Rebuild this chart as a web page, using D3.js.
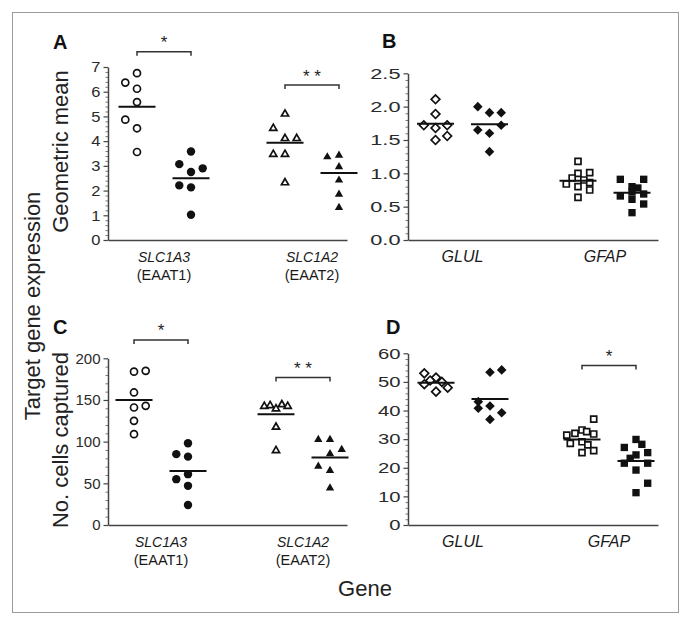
<!DOCTYPE html>
<html><head><meta charset="utf-8">
<script src="https://cdn.jsdelivr.net/npm/d3@7"></script>
<style>
body{margin:0;background:#fff}
svg{display:block}
text{font-family:"Liberation Sans",Arial,Helvetica,sans-serif}
</style>
</head><body>
<svg id="chart" width="690" height="626"></svg>
<script>
// ---------------- DATA ----------------
const genesAC = ["SLC1A3", "SLC1A2"];
const proteinsAC = ["(EAAT1)", "(EAAT2)"];
const genesBD = ["GLUL", "GFAP"];
const groups = ["open", "filled"];

// Panel A: geometric mean
const A_ticks = [0, 1, 2, 3, 4, 5, 6, 7];
const A_SLC1A3_open = [6.75, 6.37, 6.12, 5.58, 4.87, 4.52, 3.56];
const A_SLC1A3_open_slot = [0, -1, 0, 0, -1, 0, 0];
const A_SLC1A3_filled = [3.58, 3.07, 2.90, 2.75, 2.21, 2.13, 1.02];
const A_SLC1A3_filled_slot = [0, -1, 1, 0, -1, 0, 0];
const A_SLC1A2_open = [5.12, 4.54, 4.13, 4.13, 3.49, 3.49, 2.34];
const A_SLC1A2_open_slot = [0, -1, 0, 1, -1, 0, 0];
const A_SLC1A2_filled = [3.38, 3.45, 2.98, 2.44, 1.87, 1.33];
const A_SLC1A2_filled_slot = [-1, 0, 0, 0, 0, 0];
const A_means = [5.39, 2.50, 3.93, 2.71];
const A_sig = [{gene: 0, y: 7.62, label: "*"}, {gene: 1, y: 6.27, label: "* *"}];

// Panel B: geometric mean
const B_ticks = [0, 0.5, 1.0, 1.5, 2.0, 2.5];
const B_GLUL_open = [2.11, 1.89, 1.72, 1.68, 1.72, 1.56, 1.50];
const B_GLUL_open_slot = [0, 0, -1, 0, 1, 1, 0];
const B_GLUL_filled = [2.00, 1.91, 1.91, 1.72, 1.65, 1.60, 1.325];
const B_GLUL_filled_slot = [-1, 0, 1, 1, -1, 0, 0];
const B_GFAP_open = [1.18, 1.00, 1.01, 0.93, 0.90, 0.84, 0.86, 0.80, 0.75, 0.64];
const B_GFAP_open_slot = [0, 0, 1, -0.5, 0.5, -1, 1, 0, 1, 0];
const B_GFAP_filled = [0.91, 0.91, 0.80, 0.78, 0.72, 0.66, 0.61, 0.69, 0.54, 0.41];
const B_GFAP_filled_slot = [-1, 1, 0, 0.5, 0, -1, 0, 1, 1, 0];
const B_means = [1.745, 1.735, 0.89, 0.71];
const B_sig = [];

// Panel C: number of cells captured
const C_ticks = [0, 50, 100, 150, 200];
const C_SLC1A3_open = [184, 185, 159, 141, 143, 125, 109];
const C_SLC1A3_open_slot = [0, 1, 0, 0, 1, 0, 0];
const C_SLC1A3_filled = [98, 85, 82, 55, 61, 47, 24];
const C_SLC1A3_filled_slot = [0, -1, 0, -1, 0, 0, 0];
const C_SLC1A2_open = [143, 144, 140, 145, 143, 118, 90];
const C_SLC1A2_open_slot = [-1, -0.5, 0, 0.5, 1, 0, 0];
const C_SLC1A2_filled = [103, 103, 91, 86, 71, 66, 45];
const C_SLC1A2_filled_slot = [-1, 0, 1, 0, -1, 0, 0];
const C_means = [150, 64.8, 133, 81];
const C_sig = [{gene: 0, y: 222, label: "*"}, {gene: 1, y: 177, label: "* *"}];

// Panel D: number of cells captured
const D_ticks = [0, 10, 20, 30, 40, 50, 60];
const D_GLUL_open = [53.0, 51.5, 50.5, 50.0, 49.2, 48.0, 46.6];
const D_GLUL_open_slot = [-1, 0, -0.5, 0.5, -1, 1, 0];
const D_GLUL_filled = [53.4, 54.2, 43.1, 40.8, 41.6, 39.2, 36.9];
const D_GLUL_filled_slot = [0, 1, -1, -1, 0, 1, 0];
const D_GFAP_open = [37.0, 32.0, 33.2, 32.6, 31.8, 31.4, 28.5, 29.1, 28.0, 26.0, 25.3];
const D_GFAP_open_slot = [1, -0.6, 0, 0.4, 1, -1.3, -1, 0, 0.5, 1, 0];
const D_GFAP_filled = [29.9, 27.1, 28.2, 25.3, 24.5, 23.3, 21.6, 21.6, 19.2, 14.6, 11.3];
const D_GFAP_filled_slot = [0, -1, 0.5, 1, 0, -0.5, -1, 1, 0, 1, 0];
const D_means = [49.7, 44.0, 29.9, 22.4];
const D_sig = [{gene: 1, y: 55.7, label: "*"}];

const yTitleTop = "Geometric mean";
const yTitleBottom = "No. cells captured";
const yTitleAll = "Target gene expression";
const xTitle = "Gene";

// ---------------- LAYOUT ----------------
const svg = d3.select("#chart");
const INK = "#111";
const AXIS = "#444";

svg.append("rect").attr("x", 12.5).attr("y", 12.5).attr("width", 666).attr("height", 600)
  .attr("fill", "none").attr("stroke", "#9a9a9a").attr("stroke-width", 1);

const panels = [
  {id: "A", letter: [53, 49], left: 108, right: 347, top: 67, bottom: 240, domain: [0, 7], ticks: A_ticks,
   minor: 0.2, fmt: d3.format("d"), fs: 15, stretch: 1.1, genes: genesAC, sub: proteinsAC, gr: [56, 204],
   shapes: ["circle", "triangle"], series: [
     [A_SLC1A3_open, A_SLC1A3_open_slot], [A_SLC1A3_filled, A_SLC1A3_filled_slot],
     [A_SLC1A2_open, A_SLC1A2_open_slot], [A_SLC1A2_filled, A_SLC1A2_filled_slot]],
   means: A_means, sig: A_sig, labelFs: 14},
  {id: "B", letter: [382, 48], left: 408, right: 658, top: 73.3, bottom: 240, domain: [0, 2.5], ticks: B_ticks,
   minor: 0.1, fmt: d3.format(".1f"), fs: 15, stretch: 1.45, genes: genesBD, sub: null, gr: [54.5, 197],
   shapes: ["diamond", "square"], series: [
     [B_GLUL_open, B_GLUL_open_slot], [B_GLUL_filled, B_GLUL_filled_slot],
     [B_GFAP_open, B_GFAP_open_slot], [B_GFAP_filled, B_GFAP_filled_slot]],
   means: B_means, sig: B_sig, labelFs: 16},
  {id: "C", letter: [53, 334], left: 108, right: 347, top: 358.3, bottom: 525, domain: [0, 200], ticks: C_ticks,
   minor: 10, fmt: d3.format("d"), fs: 15, stretch: 1.0, genes: genesAC, sub: proteinsAC, gr: [53, 195],
   shapes: ["circle", "triangle"], series: [
     [C_SLC1A3_open, C_SLC1A3_open_slot], [C_SLC1A3_filled, C_SLC1A3_filled_slot],
     [C_SLC1A2_open, C_SLC1A2_open_slot], [C_SLC1A2_filled, C_SLC1A2_filled_slot]],
   means: C_means, sig: C_sig, labelFs: 14},
  {id: "D", letter: [386, 334], left: 408, right: 658, top: 353.3, bottom: 525, domain: [0, 60], ticks: D_ticks,
   minor: 2, fmt: d3.format("d"), fs: 15, stretch: 1.35, genes: genesBD, sub: null, gr: [55, 201],
   shapes: ["diamond", "square"], series: [
     [D_GLUL_open, D_GLUL_open_slot], [D_GLUL_filled, D_GLUL_filled_slot],
     [D_GFAP_open, D_GFAP_open_slot], [D_GFAP_filled, D_GFAP_filled_slot]],
   means: D_means, sig: D_sig, labelFs: 16}
];

const SLOT = 11.7;     // jitter column width (px)
const HALF_PAIR = 27;  // offset of open / filled group from gene centre
const MEAN_W = 37;

function marker(g, shape, filled, x, y) {
  const sw = filled ? 0 : 1.7;
  const fill = filled ? INK : "#fff";
  if (shape === "circle") {
    g.append("circle").attr("cx", x).attr("cy", y).attr("r", filled ? 4.2 : 3.5)
      .attr("fill", fill).attr("stroke", INK).attr("stroke-width", sw);
  } else if (shape === "triangle") {
    g.append("path").attr("d", d3.symbol(d3.symbolTriangle, filled ? 30 : 22)())
      .attr("transform", `translate(${x},${y + 0.5})`)
      .attr("fill", fill).attr("stroke", INK).attr("stroke-width", sw).attr("stroke-linejoin", "miter");
  } else if (shape === "diamond") {
    g.append("path").attr("d", d3.symbol(d3.symbolSquare, filled ? 46 : 38)())
      .attr("transform", `translate(${x},${y}) rotate(45)`)
      .attr("fill", fill).attr("stroke", INK).attr("stroke-width", sw);
  } else {
    g.append("path").attr("d", d3.symbol(d3.symbolSquare, filled ? 54 : 36)())
      .attr("transform", `translate(${x},${y})`)
      .attr("fill", fill).attr("stroke", INK).attr("stroke-width", sw);
  }
}

panels.forEach(p => {
  const g = svg.append("g");
  const y = d3.scaleLinear().domain(p.domain).range([p.bottom, p.top]);
  const xGene = d3.scalePoint().domain(p.genes).range([p.left + p.gr[0], p.left + p.gr[1]]);
  const xGroup = d3.scalePoint().domain(groups).range([-HALF_PAIR, HALF_PAIR]);
  const xAxisScale = d3.scaleBand().domain(p.genes).range([p.left, p.right]);

  // panel letter
  g.append("text").attr("x", p.letter[0]).attr("y", p.letter[1]).text(p.id)
    .attr("font-size", 20).attr("font-weight", "bold").attr("fill", "#111");

  // minor ticks
  const minors = d3.range(p.domain[0], p.domain[1] + p.minor / 2, p.minor)
    .filter(v => !p.ticks.some(t => Math.abs(t - v) < p.minor / 4));
  const gMinor = g.append("g").attr("transform", `translate(${p.left},0)`)
    .call(d3.axisLeft(y).tickValues(minors).tickSize(2.5).tickFormat(""));
  gMinor.select(".domain").remove();
  gMinor.selectAll("line").attr("stroke", "#777").attr("stroke-width", 1);

  // y axis
  const gy = g.append("g").attr("transform", `translate(${p.left},0)`)
    .call(d3.axisLeft(y).tickValues(p.ticks).tickSize(4.5).tickSizeOuter(0).tickPadding(3).tickFormat(p.fmt));
  gy.select(".domain").attr("stroke", AXIS).attr("stroke-width", 1.5);
  gy.selectAll(".tick line").attr("stroke", AXIS).attr("stroke-width", 1.2);
  gy.selectAll(".tick text").attr("font-size", p.fs).attr("fill", "#2a2a2a")
    .attr("font-family", "'Liberation Sans',Arial,sans-serif")
    .attr("x", -7.5 / p.stretch).attr("transform", `scale(${p.stretch},1)`);

  // x axis (line only)
  const gx = g.append("g").attr("transform", `translate(0,${p.bottom})`)
    .call(d3.axisBottom(xAxisScale).tickSize(0).tickSizeOuter(0).tickFormat(""));
  gx.select(".domain").attr("stroke", AXIS).attr("stroke-width", 1.5);

  // category labels
  p.genes.forEach((gene, i) => {
    g.append("text").attr("x", xGene(gene)).attr("y", p.bottom + 21.5).attr("text-anchor", "middle")
      .attr("font-size", p.labelFs).attr("font-style", "italic").attr("fill", "#1a1a1a").text(gene);
    if (p.sub) {
      g.append("text").attr("x", xGene(gene)).attr("y", p.bottom + 40).attr("text-anchor", "middle")
        .attr("font-size", p.labelFs + 0.5).attr("fill", "#1a1a1a").text(p.sub[i]);
    }
  });

  // points + means
  p.series.forEach((s, k) => {
    const gene = p.genes[Math.floor(k / 2)];
    const grp = groups[k % 2];
    const cx = xGene(gene) + xGroup(grp);
    const shape = p.shapes[Math.floor(k / 2)];
    s[0].forEach((v, j) => marker(g, shape, grp === "filled", cx + s[1][j] * SLOT, y(v)));
    g.append("line").attr("x1", cx - MEAN_W / 2).attr("x2", cx + MEAN_W / 2)
      .attr("y1", y(p.means[k])).attr("y2", y(p.means[k]))
      .attr("stroke", INK).attr("stroke-width", 2);
  });

  // significance brackets
  p.sig.forEach(sg => {
    const gene = p.genes[sg.gene];
    const x1 = xGene(gene) + xGroup("open");
    const x2 = xGene(gene) + xGroup("filled");
    const by = y(sg.y);
    g.append("path").attr("d", `M${x1},${by + 4}V${by}H${x2}V${by + 4}`)
      .attr("fill", "none").attr("stroke", "#333").attr("stroke-width", 1.5);
    g.append("text").attr("x", (x1 + x2) / 2).attr("y", by - 3.5).attr("text-anchor", "middle")
      .attr("font-size", 17).attr("fill", "#222").text(sg.label);
  });
});

// axis titles
svg.append("text").attr("transform", "translate(68,151.5) rotate(-90)").attr("text-anchor", "middle")
  .attr("font-size", 22).attr("fill", "#222").text(yTitleTop);
svg.append("text").attr("transform", "translate(68,440) rotate(-90)").attr("text-anchor", "middle")
  .attr("font-size", 22).attr("fill", "#222").text(yTitleBottom);
svg.append("text").attr("transform", "translate(40,306) rotate(-90)").attr("text-anchor", "middle")
  .attr("font-size", 22).attr("fill", "#222").text(yTitleAll);
svg.append("text").attr("x", 365).attr("y", 596).attr("text-anchor", "middle")
  .attr("font-size", 22).attr("fill", "#222").text(xTitle);
</script>
</body></html>
